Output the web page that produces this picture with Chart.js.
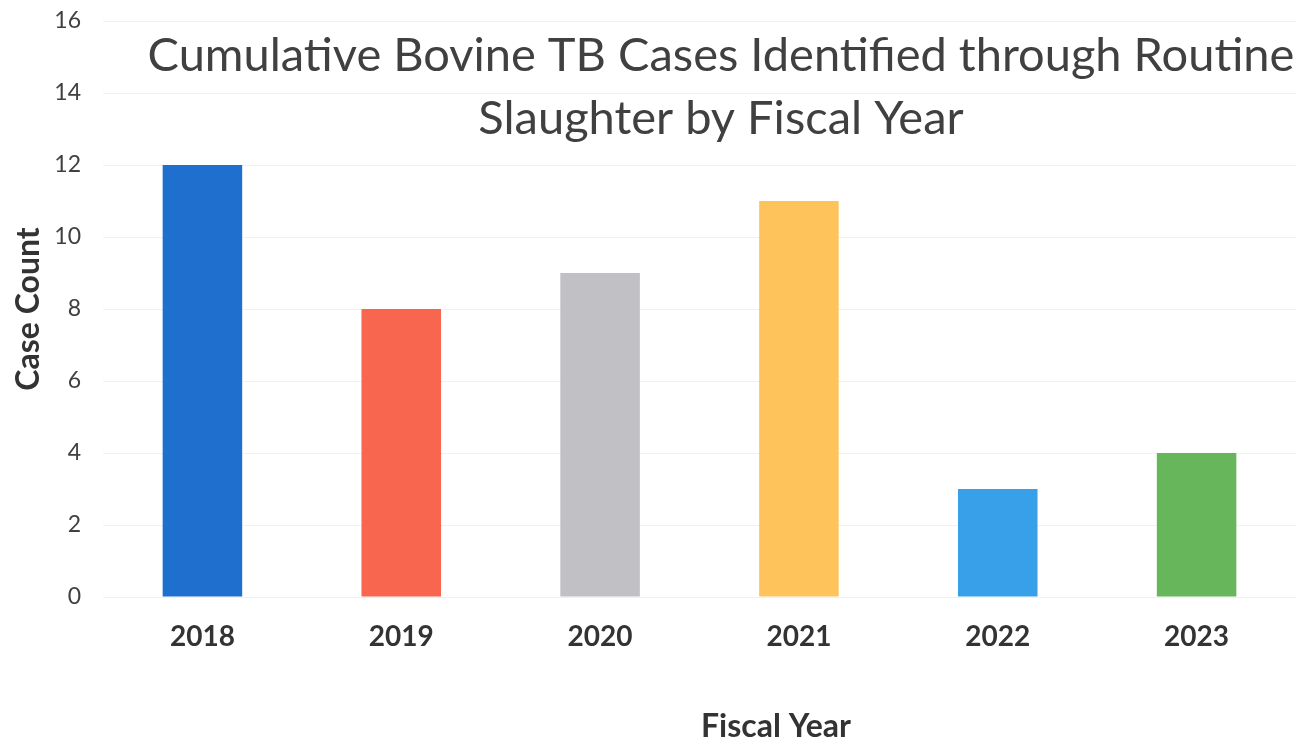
<!DOCTYPE html>
<html>
<head>
<meta charset="utf-8">
<script src="https://cdn.jsdelivr.net/npm/chart.js@4/dist/chart.umd.min.js"></script>
<style>
  html, body { margin: 0; padding: 0; background: #ffffff; }
  #wrap { width: 1299px; height: 744px; position: relative; }
</style>
</head>
<body>
<div id="wrap"><canvas id="c" width="1299" height="744"></canvas></div>
<script>
const categories = ['2018', '2019', '2020', '2021', '2022', '2023'];
const caseCounts = [12, 8, 9, 11, 3, 4];
const barColors = ['#1f6fce', '#f8664f', '#c0c0c5', '#fec35b', '#389fe9', '#67b65b'];
const titleLines = ['Cumulative Bovine TB Cases Identified through Routine', 'Slaughter by Fiscal Year'];
const yTitle = 'Case Count';
const xTitle = 'Fiscal Year';

const overlayText = {
  id: 'overlayText',
  afterDraw(chart) {
    const ctx = chart.ctx;
    ctx.save();
    ctx.fillStyle = '#404040';
    ctx.font = '47px Lato, "Open Sans", sans-serif';
    ctx.textAlign = 'center';
    ctx.textBaseline = 'middle';
    ctx.fillText(titleLines[0], 721, 56);
    ctx.fillText(titleLines[1], 721, 119);
    ctx.fillStyle = '#333333';
    ctx.font = 'bold 32px Lato, "Open Sans", sans-serif';
    ctx.fillText(xTitle, 776, 727);
    ctx.restore();
  }
};

new Chart(document.getElementById('c'), {
  type: 'bar',
  data: {
    labels: categories,
    datasets: [{
      data: caseCounts,
      backgroundColor: barColors,
      borderWidth: 0,
      barPercentage: 0.4,
      categoryPercentage: 1.0
    }]
  },
  options: {
    responsive: false,
    animation: false,
    layout: { padding: { top: 21, right: 3, bottom: 0, left: 0 } },
    plugins: { legend: { display: false }, tooltip: { enabled: false }, title: { display: false } },
    scales: {
      y: {
        min: 0, max: 16,
        ticks: { stepSize: 2, padding: 22, color: '#404040', font: { family: 'Lato', size: 23 } },
        grid: { color: '#f1f1f1', drawTicks: false },
        border: { display: false },
        title: { display: true, text: yTitle, color: '#333333', font: { family: 'Lato', size: 32, weight: 'bold' }, padding: { top: 9, bottom: 0 } },
        afterFit(s) { s.width = 103; s.paddingTop = 0; s.paddingBottom = 0; }
      },
      x: {
        ticks: { padding: 23, color: '#333333', font: { family: 'Lato', size: 28, weight: 'bold' } },
        grid: { display: false, drawTicks: false },
        border: { display: false },
        afterFit(s) { s.height = 147; s.paddingLeft = 0; s.paddingRight = 0; }
      }
    }
  },
  plugins: [overlayText]
});
</script>
</body>
</html>
